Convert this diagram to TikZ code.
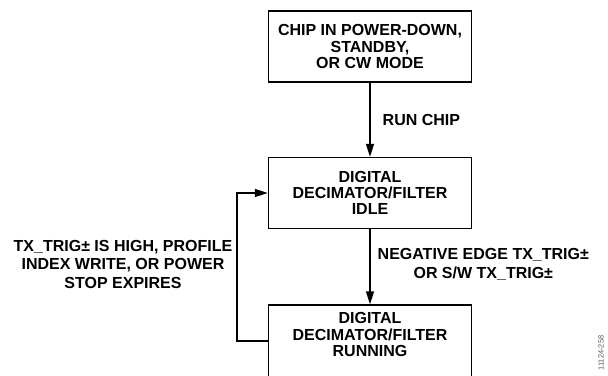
\documentclass[tikz,border=0pt]{standalone}
\usepackage{fontspec}
\setmainfont{Liberation Sans}
\usepackage{tikz}
\usetikzlibrary{arrows.meta,positioning}
\definecolor{flowBlack}{RGB}{0,0,0}
\definecolor{figGray}{RGB}{90,90,90}

\begin{document}
\begin{tikzpicture}[x=1pt,y=-1pt,
    statebox/.style={draw=flowBlack, line width=1.4pt, minimum width=203pt, minimum height=71pt,
        align=center, inner sep=0pt, font=\bfseries\fontsize{16}{16.3}\selectfont},
    flow/.style={flowBlack, line width=1.4pt, -{Triangle[length=13pt,width=8pt]}},
    tag/.style={font=\bfseries\fontsize{16}{18.5}\selectfont, align=center, inner sep=0pt}]
\useasboundingbox (0,0) rectangle (608,375);

\node[statebox] (chip) at (370,46.5) {CHIP IN POWER-DOWN,\\STANDBY,\\OR CW MODE};
\node[statebox] (idle) at (370,193) {DIGITAL\\DECIMATOR/FILTER\\IDLE};
\node[statebox, minimum height=72pt, text depth=13pt] (run) at (370,341) {DIGITAL\\DECIMATOR/FILTER\\RUNNING};

\draw[flow] (chip) -- node[tag, right=12pt] (runlbl) {RUN CHIP} (idle);
\draw[flow] (idle) -- node[tag, right=7pt, pos=0.47] (neglbl) {NEGATIVE EDGE TX\_TRIG±\\OR S/W TX\_TRIG±} (run);
\draw[flow] (run.west) -- ++(-31,0) coordinate (loop) |- (idle.west);
\node[tag] (stoplbl) at (123,264) {TX\_TRIG± IS HIGH, PROFILE\\INDEX WRITE, OR POWER\\STOP EXPIRES};

\node[text=figGray, font=\fontsize{7.5}{8}\selectfont, rotate=90, inner sep=0pt] (figid) at (601,353) {11124-258};
\end{tikzpicture}
\end{document}
